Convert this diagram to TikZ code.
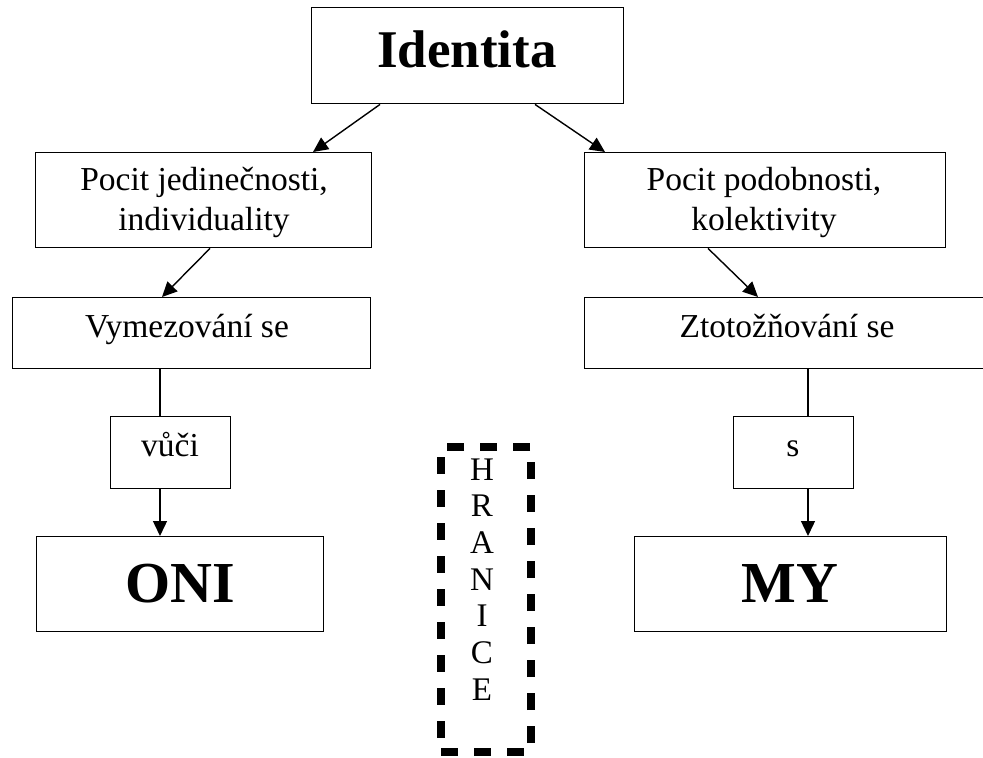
\documentclass[tikz,border=0pt]{standalone}
\usepackage{fontspec}
\setmainfont{Liberation Serif}
\usetikzlibrary{arrows.meta,calc}
\begin{document}
\begin{tikzpicture}[x=1pt,y=-1pt,
  box/.style={draw, line width=1.4pt, inner sep=0pt, anchor=north west},
  txt/.style={font=\fontsize{33.5}{40}\selectfont, anchor=base, align=center, inner sep=0pt},
  big/.style={font=\bfseries\fontsize{58}{60}\selectfont, anchor=base, inner sep=0pt},
  arr/.style={line width=1.4pt, -{Triangle[length=15pt,width=14pt]}},
  conn/.style={line width=1.4pt},
  border/.style={draw, line width=8pt, dash pattern=on 17pt off 16pt, inner sep=0pt, anchor=north west}]
\useasboundingbox (0,0) rectangle (983,758);
\clip (0,0) rectangle (983,758);
% boxes
\node[box, minimum width=312, minimum height=96] (id) at (311,7) {};
\node[box, minimum width=336, minimum height=95] (pj) at (35,152) {};
\node[box, minimum width=361, minimum height=95] (pp) at (584,152) {};
\node[box, minimum width=358, minimum height=71] (vym) at (12,297) {};
\node[box, minimum width=420, minimum height=71] (zt) at (584,297) {};
\node[box, minimum width=120, minimum height=72] (vu) at (110,416) {};
\node[box, minimum width=120, minimum height=72] (s) at (733,416) {};
\node[box, minimum width=287, minimum height=95] (oni) at (36,536) {};
\node[box, minimum width=312, minimum height=95] (my) at (634,536) {};
\node[border, minimum width=90, minimum height=305] (hr) at (437,443) {};
% texts
\node[big, font=\bfseries\fontsize{53}{60}\selectfont] (tid) at (467,67) {Identita};
\node[txt] (tpj) at (204,230) {Pocit jedinečnosti,\\individuality};
\node[txt] (tpp) at (764,230) {Pocit podobnosti,\\kolektivity};
\node[txt] (tvym) at (187,337) {Vymezování se};
\node[txt] (tzt) at (787,337) {Ztotožňování se};
\node[txt] (tvu) at (170,456) {vůči};
\node[txt] (ts) at (793,456) {s};
\node[big] (toni) at (180,602) {ONI};
\node[big] (tmy) at (790,602) {MY};
\foreach \l [count=\i] in {H,R,A,N,I,C,E}
  \node[txt, font=\fontsize{33}{40}\selectfont] (hl\i) at (482,{480+36.7*(\i-1)}) {\l};
% connectors
\draw[arr] ([xshift=69pt]id.south west) -- ([xshift=278pt]pj.north west);
\draw[arr] ([xshift=224pt]id.south west) -- ([xshift=21pt]pp.north west);
\draw[arr] ([xshift=175pt]pj.south west) -- ([xshift=150pt]vym.north west);
\draw[arr] ([xshift=124pt]pp.south west) -- ([xshift=174pt]zt.north west);
\draw[conn] ([xshift=148pt]vym.south west) -- ([xshift=50pt]vu.north west);
\draw[arr] ([xshift=50pt]vu.south west) -- ([xshift=124pt]oni.north west);
\draw[conn] ([xshift=224pt]zt.south west) -- ([xshift=75pt]s.north west);
\draw[arr] ([xshift=75pt]s.south west) -- ([xshift=174pt]my.north west);
\end{tikzpicture}
\end{document}
